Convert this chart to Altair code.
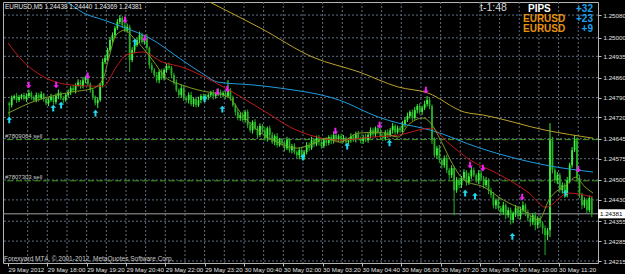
import altair as alt
import pandas as pd

# ---------------- data ----------------
# prices are given in points above 1.24000 (1 point = 0.00001)
BASE = 1.24
first_open = 770
close_pts = [
    763, 788, 795, 781, 792, 799, 785, 795,
    806, 792, 781, 799, 788, 802, 785, 770,
    781, 792, 774, 795, 806, 788, 781, 799,
    809, 823, 816, 834, 844, 830, 851, 858,
    837, 816, 792, 770, 781,
    834, 915, 929, 957,
    992, 1010, 1034, 1056, 1070, 1045,
    1027, 1038, 922,
    957, 975, 992, 1010, 985, 999,
    964, 904, 887,
    869, 851, 880, 858, 887, 901,
    894, 869, 844,
    816, 799, 823, 788,
    781, 799, 767, 785,
    763, 781, 795, 788,
    792, 799, 806, 795, 802, 809, 799, 806, 795,
    816,
    788, 763, 739, 718, 728,
    711, 739, 693, 675, 704, 682, 658, 690,
    675, 647, 682, 658, 633, 654, 623, 640,
    630, 612, 640, 605, 619, 598, 587, 605, 580,
    598, 623, 612, 640, 626, 647, 633, 619,
    640, 630, 651, 637, 658, 644, 654, 640,
    647, 633, 640, 654, 644, 661, 647, 637,
    651, 640, 658, 675, 661, 682, 668, 654,
    647, 668, 658, 675, 690, 668, 682, 675,
    697, 711, 725, 739, 718, 746, 760, 739,
    753, 767, 781, 760,
    640, 587, 612, 570,
    552, 577, 535, 517, 542, 464, 499, 482,
    506, 528, 492, 513, 535, 517, 499, 524,
    506, 482, 499, 464, 447, 411, 429, 401,
    387, 411, 376, 394, 359, 383, 401, 373,
    394, 411, 387, 366, 352, 376, 341, 366,
    348, 330, 306, 323,
    640,
    535, 499, 517, 464, 482, 447,
    499, 552, 605, 640,
    506, 447, 411,
    429, 394, 436, 381,
]
# wick lengths beyond the candle body (points)
upper_wick = [
    6, 9, 5, 11, 7, 4, 8, 10,
    12, 6, 5, 9, 7, 10, 4, 8,
    7, 11, 6, 9, 12, 5, 8, 6,
    9, 7, 12, 6, 10, 8, 11, 9,
    14, 6, 8, 5, 9, 7, 12, 10,
    8, 11, 9, 7, 10, 10, 6, 9,
    12, 8, 10, 7, 9, 12, 8, 11,
    15, 6, 9, 7, 11, 8, 10, 6,
    9, 12, 7, 8, 10, 6, 12, 8,
    7, 9, 11, 6, 8, 12, 7, 9,
    10, 6, 8, 11, 7, 13, 9, 6,
    8, 35, 7, 9, 6, 10, 8, 12,
    7, 9, 11, 6, 10, 8, 9, 7,
    12, 6, 9, 10, 7, 11, 8, 6,
    9, 12, 7, 8, 10, 6, 9, 11,
    7, 10, 8, 12, 6, 9, 11, 7,
    8, 10, 6, 9, 12, 14, 7, 9,
    11, 6, 8, 10, 7, 9, 12, 6,
    8, 11, 7, 10, 9, 6, 12, 14,
    9, 7, 10, 8, 11, 6, 9, 7,
    10, 8, 12, 6, 9, 11, 7, 10,
    8, 12, 14, 9, 6, 10, 8, 11,
    7, 9, 12, 8, 10, 6, 11, 9,
    8, 10, 7, 12, 14, 9, 6, 11,
    10, 8, 12, 7, 9, 11, 6, 10,
    8, 12, 7, 10, 9, 6, 11, 8,
    12, 14, 7, 9, 10, 8, 11, 6,
    9, 7, 10, 8, 60, 12, 9, 11,
    8, 10, 7, 12, 9, 11, 18, 10,
    12, 8, 10, 7, 9, 4,
]
lower_wick = [
    40, 8, 6, 10, 7, 9, 5, 11,
    7, 10, 6, 8, 12, 5, 9, 7,
    10, 6, 9, 8, 11, 7, 12, 6,
    8, 10, 7, 12, 6, 9, 8, 11,
    7, 9, 10, 8, 17, 6, 9, 8,
    10, 7, 9, 12, 6, 8, 11, 7,
    9, 42, 8, 11, 7, 10, 6, 9,
    8, 12, 10, 7, 9, 11, 6, 8,
    10, 7, 12, 9, 6, 11, 8, 10,
    9, 12, 7, 10, 8, 6, 11, 9,
    7, 10, 8, 12, 9, 6, 10, 8,
    11, 7, 9, 6, 12, 8, 10, 7,
    9, 11, 8, 12, 7, 10, 6, 9,
    8, 12, 10, 7, 11, 9, 6, 10,
    12, 7, 9, 11, 8, 10, 14, 7,
    9, 8, 11, 6, 10, 7, 12, 9,
    7, 10, 8, 11, 9, 6, 10, 12,
    8, 11, 7, 9, 10, 12, 6, 8,
    10, 7, 9, 12, 8, 11, 7, 9,
    11, 8, 10, 7, 12, 9, 6, 10,
    8, 11, 7, 9, 10, 6, 12, 8,
    10, 7, 9, 11, 14, 8, 12, 10,
    12, 9, 11, 14, 10, 88, 9, 12,
    10, 8, 12, 9, 11, 7, 10, 13,
    9, 12, 8, 14, 10, 11, 13, 9,
    12, 10, 14, 9, 16, 11, 13, 10,
    12, 9, 14, 11, 15, 10, 18, 12,
    14, 20, 70, 18, 24, 12, 10, 14,
    9, 12, 10, 8, 11, 9, 7, 12,
    10, 14, 9, 12, 8, 12,
]
assert len(close_pts) == len(upper_wick) == len(lower_wick) == 238

# moving averages: (bar index, points)
ma_yellow_bar = [74.3, 81.5, 102.3, 123.5, 142.3, 158.3, 170.3, 185.1, 193.1, 218.3, 237.5]
ma_yellow_pts = [1158, 1126, 1034, 932, 880, 827, 806, 739, 728, 675, 647]
ma_blue_bar = [14.3, 23.5, 30.3, 38.3, 47.5, 57.1, 70.3, 78.3, 85.1, 99.5, 110.3, 134.3,
               150.3, 158.3, 166.3, 171.5, 191.5, 218.3, 237.5]
ma_blue_pts = [1168, 1126, 1087, 1063, 1034, 999, 922, 876, 844, 834, 823, 781,
               721, 700, 686, 675, 612, 552, 528]
ma_red_bar = [-0.5, 5.1, 11.5, 25.1, 34.3, 38.3, 43.5, 47.5, 54.3, 62.3, 70.3, 83.5, 94.3,
              105.1, 114.3, 122.3, 134.3, 147.5, 158.3, 171.5, 178.3, 187.5, 198.3, 211.5,
              218.3, 227.5, 237.5]
ma_red_pts = [982, 922, 876, 834, 830, 830, 897, 939, 950, 915, 897, 844, 792,
              735, 686, 658, 640, 651, 658, 682, 633, 570, 524, 454,
              404, 454, 440]
ma_olive_bar = [-0.5, 11.5, 25.1, 34.3, 38.3, 40.3, 43.5, 47.1, 50.3, 55.1,
                58.3, 63.5, 70.3, 77.1, 89.1, 94.3, 99.5, 107.5, 117.1, 122.3,
                129.1, 134.3, 142.3, 150.3, 158.3, 162.3, 168.3, 171.5, 175.5, 181.1,
                185.1, 193.1, 201.1, 209.1, 215.5, 219.5, 227.5, 230.3, 234.3, 237.5]
ma_olive_pts = [735, 781, 809, 823, 858, 922, 1010, 1027, 1003, 957,
                922, 862, 834, 816, 792, 735, 686, 640, 612, 623,
                647, 633, 665, 668, 651, 693, 718, 700, 640, 545,
                499, 475, 429, 394, 359, 429, 489, 510, 475, 454]

# signal arrows
sell_bar = [7.9, 19.1, 31.9, 47.1, 55.1, 84.7, 88.7, 132.7, 150.7, 169.5, 187.5, 192.7, 208.7, 231.5]
sell_pts = [834, 834, 866, 1063, 999, 809, 820, 672, 693, 816, 552, 542, 440, 538]
buy_bar = [0, 17.9, 21.1, 35.1, 51.1, 79.5, 86.7, 119.5, 137.5, 154.7, 185.5, 189.5, 204.7, 226.3]
buy_pts = [711, 753, 763, 735, 985, 785, 749, 580, 619, 630, 454, 443, 302, 454]

# axes
price_labels = [1.25080, 1.25000, 1.24935, 1.24860, 1.24790, 1.24720, 1.24645,
                1.24575, 1.24500, 1.24430, 1.24355, 1.24285, 1.24215]
time_labels = ["29 May 2012", "29 May 18:00", "29 May 19:20", "29 May 20:40", "29 May 22:00",
               "29 May 23:20", "30 May 00:40", "30 May 02:00", "30 May 03:20", "30 May 04:40",
               "30 May 06:00", "30 May 07:20", "30 May 08:40", "30 May 10:00", "30 May 11:20"]
order_names = ["#7809064 sell", "#7807303 sell"]
order_prices = [1.24642, 1.24497]
bid_price = 1.24381
header = "EURUSD,M5  1.24438 1.24440 1.24369 1.24381"
footer = "Forexyard MT4, \u00a9 2001-2012, MetaQuotes Software Corp."
timer_text = "t-1:48"
pips_rows = [("PIPS", "+32"), ("EURUSD", "+23"), ("EURUSD", "+9")]

# ---------------- tables ----------------
opens = [first_open] + close_pts[:-1]   # each bar opens at the previous close
rows = []
for i, (o, c, u, l) in enumerate(zip(opens, close_pts, upper_wick, lower_wick)):
    rows.append({
        "i": i,
        "open": BASE + o / 1e5, "close": BASE + c / 1e5,
        "high": BASE + (max(o, c) + u) / 1e5, "low": BASE + (min(o, c) - l) / 1e5,
        "dir": "up" if c >= o else "down",
    })
candles = pd.DataFrame(rows)
up_c = candles[candles["dir"] == "up"]
dn_c = candles[candles["dir"] == "down"]

def ma_frame(bars, pts):
    return pd.DataFrame({"i": bars, "price": [BASE + p / 1e5 for p in pts], "k": list(range(len(bars)))})

sell_df = pd.DataFrame({"i": sell_bar, "price": [BASE + p / 1e5 for p in sell_pts]})
buy_df = pd.DataFrame({"i": buy_bar, "price": [BASE + p / 1e5 for p in buy_pts]})
hgrid = pd.DataFrame({"price": price_labels})
vgrid = pd.DataFrame({"i": [8 * k - 0.5 for k in range(1, 30)]})
orders = pd.DataFrame({"name": order_names, "price": order_prices})
bid = pd.DataFrame({"price": [bid_price], "top": [bid_price + 0.00016],
                    "bot": [bid_price - 0.00016], "label": [f"{bid_price:.5f}"]})

W, H = 595, 261
FONT = "Liberation Sans"
xs = alt.Scale(domain=[-0.5, 237.5], nice=False, zero=False)
ys = alt.Scale(domain=[1.24208, 1.25126], nice=False, zero=False)

label_arr = "[" + ",".join(f"'{t}'" for t in time_labels) + "]"
x_axis = alt.Axis(values=[16 * k - 0.5 for k in range(15)],
                  labelExpr=label_arr + "[round((datum.value+0.5)/16)]",
                  orient="bottom", grid=False, labelAlign="left", labelBaseline="top", labelPadding=0,
                  labelFlush=False, labelOverlap=False, labelBound=False,
                  labelFont=FONT, labelFontSize=6.2, labelColor="#E0E0E0", tickColor="#C0C0C0",
                  tickSize=3, domain=False, title=None)
y_axis = alt.Axis(values=price_labels, format=".5f", orient="right", grid=False, labelPadding=2,
                  labelFont=FONT, labelFontSize=6.2, labelColor="#E0E0E0", tickColor="#C0C0C0",
                  tickSize=3, domain=False, title=None, labelOverlap=False, labelFlush=False)

def X(f="i"):
    return alt.X(f"{f}:Q", scale=xs, axis=x_axis)

def Y(f="price"):
    return alt.Y(f"{f}:Q", scale=ys, axis=y_axis)

grid_col = "#5E6E80"
l_hgrid = alt.Chart(hgrid).mark_rule(color=grid_col, strokeDash=[2, 2], strokeWidth=1).encode(y=Y())
l_vgrid = alt.Chart(vgrid).mark_rule(color=grid_col, strokeDash=[2, 2], strokeWidth=1).encode(x=X())
l_orders = alt.Chart(orders).mark_rule(color="#3E9E1E", strokeDash=[6, 3], strokeWidth=1).encode(y=Y())
l_order_txt = alt.Chart(orders).mark_text(align="left", baseline="bottom", dy=-1, font=FONT,
                                          fontSize=6, color="#C8C8C8").encode(
    x=alt.value(2), y=Y(), text="name:N")
l_bid = alt.Chart(bid).mark_rule(color="#A0A0A0", strokeWidth=1).encode(y=Y())

UP_COL, DN_COL = "#3CF23C", "#25B025"
l_wick_up = alt.Chart(up_c).mark_rule(strokeWidth=1, clip=True, color=UP_COL).encode(
    x=X(), y=Y("low"), y2="high:Q")
l_wick_dn = alt.Chart(dn_c).mark_rule(strokeWidth=1, clip=True, color=DN_COL).encode(
    x=X(), y=Y("low"), y2="high:Q")
l_body_up = alt.Chart(up_c).mark_bar(size=1.8, clip=True, color=UP_COL).encode(
    x=X(), y=Y("open"), y2="close:Q")
l_body_dn = alt.Chart(dn_c).mark_bar(size=1.8, clip=True, color=DN_COL).encode(
    x=X(), y=Y("open"), y2="close:Q")

def ma_layer(bars, pts, col):
    return alt.Chart(ma_frame(bars, pts)).mark_line(
        strokeWidth=1, clip=True, interpolate="monotone", color=col).encode(x=X(), y=Y(), order="k:Q")

l_mas = [
    ma_layer(ma_yellow_bar, ma_yellow_pts, "#BBA22C"),
    ma_layer(ma_blue_bar, ma_blue_pts, "#1E9CDE"),
    ma_layer(ma_red_bar, ma_red_pts, "#C01818"),
    ma_layer(ma_olive_bar, ma_olive_pts, "#7E9A22"),
]

down_arrow = "M-0.3,-1L0.3,-1L0.3,0.1L0.85,0.1L0,1L-0.85,0.1L-0.3,0.1Z"
up_arrow = "M-0.3,1L0.3,1L0.3,-0.1L0.85,-0.1L0,-1L-0.85,-0.1L-0.3,-0.1Z"
l_sell = alt.Chart(sell_df).mark_point(shape=down_arrow, filled=True, size=45, color="#F020F0",
                                       opacity=1, clip=True).encode(x=X(), y=Y())
l_buy = alt.Chart(buy_df).mark_point(shape=up_arrow, filled=True, size=45, color="#20D8F0",
                                     opacity=1, clip=True).encode(x=X(), y=Y())

l_box = alt.Chart(bid).mark_rect(color="#FFFFFF").encode(
    x=alt.value(W), x2=alt.value(W + 27), y=Y("top"), y2="bot:Q")
l_box_txt = alt.Chart(bid).mark_text(align="left", baseline="middle", font=FONT, fontSize=6.2,
                                     color="#000000").encode(x=alt.value(W + 2), y=Y(), text="label:N")

one = pd.DataFrame({"a": [0]})
def hud(text, x, y, size, color, align="left", weight="normal"):
    return alt.Chart(one).mark_text(text=text, align=align, baseline="middle", font=FONT, fontSize=size,
                                    fontWeight=weight, color=color).encode(x=alt.value(x), y=alt.value(y))

texts = [
    hud(header, 2, 4.5, 6.4, "#E8E8E8"),
    hud(footer, 1, 256.5, 6.5, "#C8C8C8"),
    hud(timer_text, 477, 5.5, 10.5, "#D8D8D8"),
]
name_colors = ["#FFFFFF", "#E8930E", "#E8930E"]
for r, ((name, val), nc) in enumerate(zip(pips_rows, name_colors)):
    yy = 7 + 10 * r
    xn = 525 if r == 0 else 520
    texts.append(hud(name, xn, yy, 10, nc, weight="bold"))
    texts.append(hud(val, 590, yy, 10, "#1EA0E8", align="right", weight="bold"))

chart = alt.layer(
    l_hgrid, l_vgrid, l_orders, l_order_txt, l_bid,
    l_wick_up, l_wick_dn, l_body_up, l_body_dn, *l_mas, l_sell, l_buy,
    l_box, l_box_txt, *texts
).properties(
    width=W, height=H,
    autosize=alt.AutoSizeParams(type="none"),
    padding={"left": 3, "top": 2, "right": 27, "bottom": 11},
    background="#000000",
).configure_view(stroke="#B4B4B4", strokeWidth=1, fill="#000000")

chart.save("out.html", embed_options={"renderer": "svg", "actions": False})
